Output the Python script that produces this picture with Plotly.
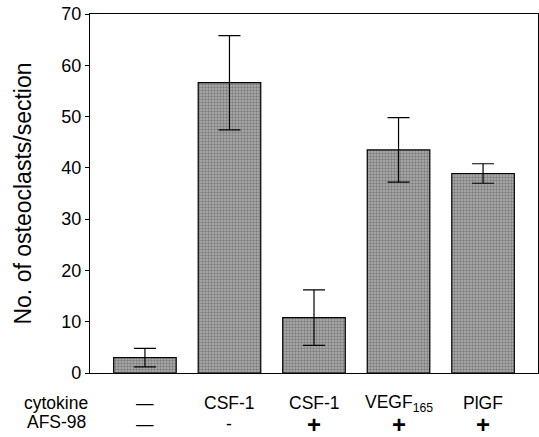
import plotly.graph_objects as go

categories = ["c1", "c2", "c3", "c4", "c5"]
values = [3.0, 56.6, 10.8, 43.5, 38.9]
errors = [1.8, 9.2, 5.4, 6.3, 1.9]
cytokine_labels = ["—", "CSF-1", "CSF-1", "VEGF<sub>165</sub>", "PlGF"]
afs_labels = ["—", "-", "+", "+", "+"]
y_ticks = [0, 10, 20, 30, 40, 50, 60, 70]

FONT = "Liberation Sans, Arial, sans-serif"
x = list(range(len(categories)))

W, H = 539, 437
ml, mr, mt, mb = 90, 1, 14, 64
pw, ph = W - ml - mr, H - mt - mb


def py(pix):
    return (H - mb - pix) / ph


def px(pix):
    return (pix - ml) / pw


fig = go.Figure()
fig.add_trace(go.Bar(
    x=x, y=values, width=0.74,
    marker=dict(color="#a0a0a0", line=dict(color="black", width=1.2),
                pattern=dict(shape=".", fgcolor="#4a4a4a", bgcolor="#b0b0b0", size=3, solidity=0.5)),
    error_y=dict(type="data", array=errors, visible=True, color="black", thickness=1.2, width=11),
))

for i, lab in enumerate(cytokine_labels):
    fig.add_annotation(x=i, y=py(403), xref="x", yref="paper", text=lab, showarrow=False,
                       xanchor="center", yanchor="middle",
                       font=dict(family=FONT, size=17.5, color="black"))
for i, lab in enumerate(afs_labels):
    bold = lab == "+"
    fig.add_annotation(x=i, y=py(424), xref="x", yref="paper", text=(f"<b>{lab}</b>" if bold else lab),
                       showarrow=False, xanchor="center", yanchor="middle",
                       font=dict(family=FONT, size=24 if bold else 17.5, color="black"))

fig.add_annotation(x=px(56), y=py(403), xref="paper", yref="paper", text="cytokine", showarrow=False,
                   xanchor="center", yanchor="middle",
                   font=dict(family=FONT, size=17.5, color="black"))
fig.add_annotation(x=px(56), y=py(422), xref="paper", yref="paper", text="AFS-98", showarrow=False,
                   xanchor="center", yanchor="middle",
                   font=dict(family=FONT, size=17.5, color="black"))

fig.update_layout(
    width=W, height=H, margin=dict(l=ml, r=mr, t=mt, b=mb),
    plot_bgcolor="white", paper_bgcolor="white", showlegend=False,
    font=dict(family=FONT, color="black"),
)
fig.update_xaxes(range=[-0.65, 4.65], showticklabels=False, ticks="", showgrid=False,
                 showline=True, linecolor="black", linewidth=1.2, mirror=True, zeroline=False)
fig.update_yaxes(range=[0, 70], tickvals=y_ticks, ticks="outside", ticklen=4, tickwidth=1.2,
                 tickcolor="black", showgrid=False, zeroline=False,
                 showline=True, linecolor="black", linewidth=1.2, mirror=True,
                 tickfont=dict(family=FONT, size=18, color="black"),
                 title=dict(text="No. of osteoclasts/section", font=dict(family=FONT, size=23, color="black"),
                            standoff=23))

fig.write_html("out.html", config={"displayModeBar": False},
               post_script="document.body.style.margin='0';")
